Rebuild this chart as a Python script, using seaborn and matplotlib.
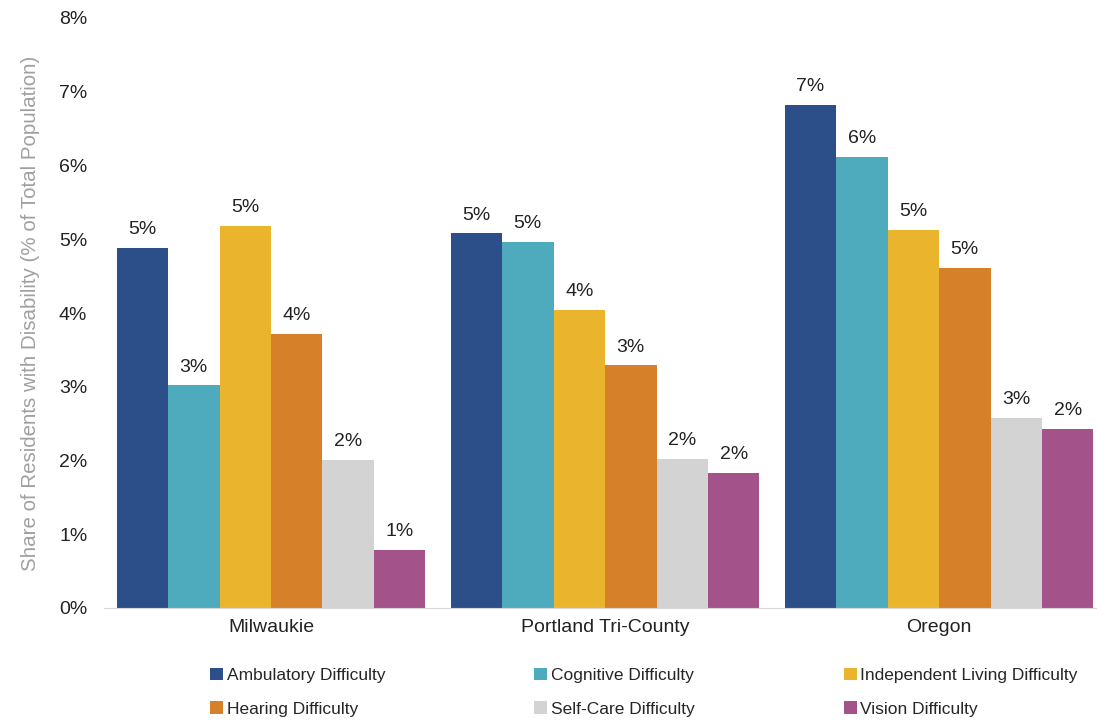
import pandas as pd
import numpy as np
import matplotlib
matplotlib.use("Agg")
import matplotlib.pyplot as plt
import seaborn as sns

# Data (share of total population in %)
regions = ["Milwaukie", "Portland Tri-County", "Oregon"]
difficulties = ["Ambulatory Difficulty", "Cognitive Difficulty", "Independent Living Difficulty",
                "Hearing Difficulty", "Self-Care Difficulty", "Vision Difficulty"]
ambulatory = [4.88, 5.08, 6.82]
cognitive = [3.02, 4.96, 6.12]
independent = [5.18, 4.04, 5.13]
hearing = [3.72, 3.29, 4.61]
selfcare = [2.01, 2.02, 2.58]
vision = [0.79, 1.83, 2.43]
colors = ["#2C4F89", "#4EABBE", "#EAB42C", "#D7802A", "#D3D3D3", "#A3528A"]

series = [ambulatory, cognitive, independent, hearing, selfcare, vision]
rows = []
for name, vals in zip(difficulties, series):
    for reg, v in zip(regions, vals):
        rows.append({"Region": reg, "Difficulty": name, "Share": v})
data = pd.DataFrame(rows)

sns.set_style("white")
plt.rcParams['font.family'] = ['Liberation Sans', 'DejaVu Sans']

fig = plt.figure(figsize=(10.97, 7.21), dpi=100)
ax = fig.add_axes([104 / 1097, 113 / 721, 993 / 1097, 590 / 721])

sns.barplot(data=data, x="Region", y="Share", hue="Difficulty", hue_order=difficulties,
            order=regions, palette=colors, width=0.925, saturation=1, ax=ax,
            edgecolor="none", linewidth=0)

for cont in ax.containers:
    ax.bar_label(cont, labels=[f"{round(b.get_height())}%" for b in cont],
                 padding=7, fontsize=14, color="#222222")

ax.set_ylim(0, 8)
ax.set_xlim(-0.5, 2.473)
ax.set_yticks(range(0, 9))
ax.set_yticklabels([f"{i}%" for i in range(0, 9)], fontsize=14, color="#222222")
ax.tick_params(axis="y", length=0, pad=12)
ax.tick_params(axis="x", length=0, pad=8)
for lbl in ax.get_xticklabels():
    lbl.set_fontsize(14)
    lbl.set_color("#222222")
ax.set_xlabel("")
ax.set_ylabel("Share of Residents with Disability (% of Total Population)",
              fontsize=14.8, color="#A0A0A0", labelpad=14)
for s in ["top", "right", "left"]:
    ax.spines[s].set_visible(False)
ax.spines["bottom"].set_color("#D9D9D9")

# Legend laid out row-wise (matplotlib fills columns first)
handles, labels = ax.get_legend_handles_labels()
ax.legend_.remove()
order = [0, 3, 1, 4, 2, 5]
fig.legend([handles[i] for i in order], [labels[i] for i in order],
           ncol=3, loc="lower left", bbox_to_anchor=(198 / 1097, -0.011),
           frameon=False, prop={"size": 12.5},
           handlelength=0.75, handleheight=0.75, handletextpad=0.2,
           columnspacing=8.6, labelspacing=1.05, borderaxespad=0.3)

fig.savefig("out.png", dpi=100)
